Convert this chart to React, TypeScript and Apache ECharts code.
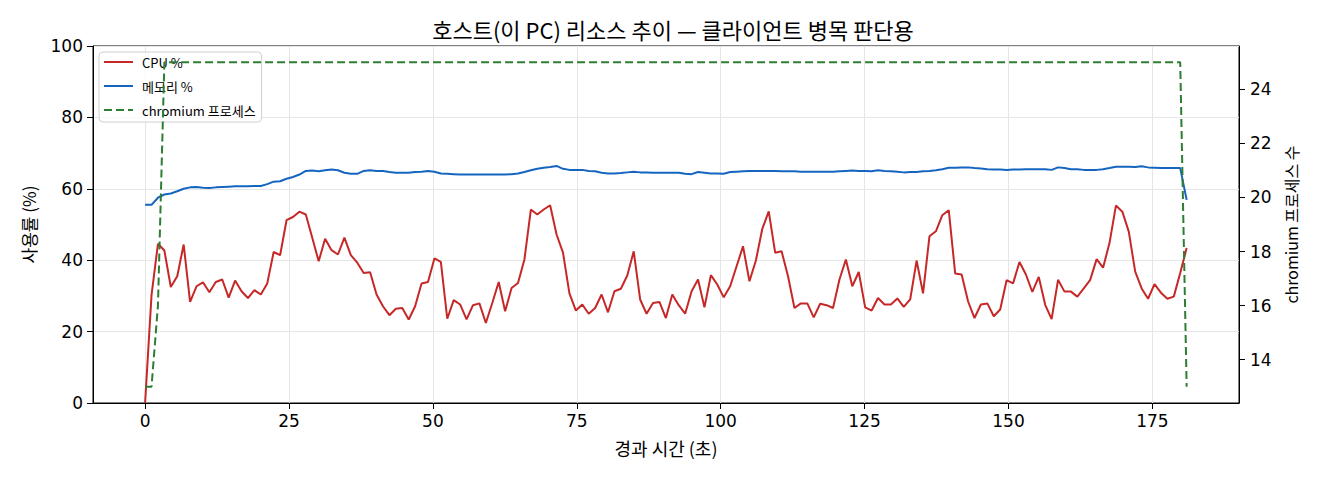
import React, { useEffect, useRef } from 'react'
import * as echarts from 'echarts'

// 샘플 간격 (초)
const SAMPLE_SEC = 1.117

const cpuPct = [
  0, 30.2, 44.6, 42.7, 32.5, 35.5, 44.4, 28.3, 32.7, 33.8,
  31.0, 33.9, 34.6, 29.5, 34.3, 31.3, 29.4, 31.6, 30.4, 33.5,
  42.3, 41.4, 51.2, 52.1, 53.6, 52.8, 46.3, 39.7, 46.0, 42.8,
  41.6, 46.3, 41.4, 39.3, 36.4, 36.6, 30.4, 27.1, 24.6, 26.4,
  26.6, 23.4, 27.1, 33.5, 33.9, 40.5, 39.5, 23.6, 28.8, 27.6,
  23.4, 27.4, 27.9, 22.4, 28.0, 33.9, 25.7, 32.2, 33.6, 40.2,
  54.2, 52.8, 54.2, 55.4, 47.2, 42.1, 30.7, 25.9, 27.6, 25.0,
  26.6, 30.4, 25.4, 31.3, 32.0, 35.7, 42.5, 29.0, 25.0, 28.0,
  28.3, 23.8, 30.4, 27.4, 25.0, 31.3, 34.6, 26.8, 35.8, 33.2,
  29.6, 32.7, 38.3, 43.9, 34.1, 39.9, 48.8, 53.7, 42.1, 42.5,
  35.5, 26.6, 27.9, 27.9, 24.0, 27.8, 27.4, 26.6, 34.6, 40.2,
  32.7, 36.7, 26.8, 25.9, 29.4, 27.6, 27.6, 29.3, 26.9, 29.0,
  39.9, 30.7, 46.7, 48.1, 52.6, 54.0, 36.3, 36.0, 28.5, 23.8,
  27.6, 27.9, 24.3, 26.2, 34.4, 33.5, 39.5, 36.0, 31.1, 35.3,
  27.5, 23.5, 34.5, 31.2, 31.2, 29.8, 32.1, 34.5, 40.3, 37.9,
  44.8, 55.3, 53.6, 48.0, 36.8, 32.1, 29.2, 33.3, 30.9, 29.2,
  29.8, 36.4, 43.4,
]

const memPct = [
  55.5, 55.5, 57.5, 58.4, 58.7, 59.3, 60.0, 60.4, 60.5, 60.3,
  60.2, 60.4, 60.5, 60.6, 60.7, 60.7, 60.7, 60.8, 60.8, 61.3,
  62.0, 62.1, 62.8, 63.3, 64.0, 65.0, 65.1, 64.9, 65.2, 65.4,
  65.2, 64.5, 64.2, 64.2, 65.0, 65.2, 65.0, 65.0, 64.7, 64.5,
  64.5, 64.5, 64.7, 64.8, 65.0, 64.8, 64.3, 64.2, 64.1, 64.0,
  64.0, 64.0, 64.0, 64.0, 64.0, 64.0, 64.0, 64.1, 64.3, 64.7,
  65.2, 65.6, 65.9, 66.1, 66.4, 65.6, 65.3, 65.3, 65.3, 65.0,
  64.9, 64.5, 64.3, 64.3, 64.4, 64.6, 64.8, 64.6, 64.6, 64.5,
  64.5, 64.5, 64.5, 64.5, 64.2, 64.1, 64.7, 64.5, 64.3, 64.3,
  64.2, 64.7, 64.8, 64.9, 65.0, 65.0, 65.0, 65.0, 65.0, 64.9,
  64.9, 64.9, 64.8, 64.8, 64.8, 64.8, 64.8, 64.8, 64.9, 65.0,
  65.1, 65.0, 65.0, 64.9, 65.2, 65.0, 64.9, 64.8, 64.6, 64.7,
  64.7, 64.9, 65.0, 65.2, 65.5, 65.9, 65.9, 66.0, 66.0, 65.8,
  65.7, 65.5, 65.4, 65.4, 65.3, 65.4, 65.4, 65.5, 65.5, 65.5,
  65.5, 65.3, 66.0, 65.8, 65.5, 65.5, 65.3, 65.3, 65.3, 65.5,
  65.8, 66.2, 66.2, 66.2, 66.1, 66.3, 66.0, 65.9, 65.8, 65.8,
  65.8, 65.8, 56.9,
]

const chromiumProcs = [
  13, 13, 16, 25, 25, 25, 25, 25, 25, 25, 25, 25, 25, 25, 25, 25, 25, 25, 25, 25,
  25, 25, 25, 25, 25, 25, 25, 25, 25, 25, 25, 25, 25, 25, 25, 25, 25, 25, 25, 25,
  25, 25, 25, 25, 25, 25, 25, 25, 25, 25, 25, 25, 25, 25, 25, 25, 25, 25, 25, 25,
  25, 25, 25, 25, 25, 25, 25, 25, 25, 25, 25, 25, 25, 25, 25, 25, 25, 25, 25, 25,
  25, 25, 25, 25, 25, 25, 25, 25, 25, 25, 25, 25, 25, 25, 25, 25, 25, 25, 25, 25,
  25, 25, 25, 25, 25, 25, 25, 25, 25, 25, 25, 25, 25, 25, 25, 25, 25, 25, 25, 25,
  25, 25, 25, 25, 25, 25, 25, 25, 25, 25, 25, 25, 25, 25, 25, 25, 25, 25, 25, 25,
  25, 25, 25, 25, 25, 25, 25, 25, 25, 25, 25, 25, 25, 25, 25, 25, 25, 25, 25, 25,
  25, 25, 13,
]

const xTicks = [0, 25, 50, 75, 100, 125, 150, 175]
const procTicks = [14, 16, 18, 20, 22, 24]

const KR = '"Noto Sans CJK KR", "Noto Sans", sans-serif'
const NUM = '"DejaVu Sans", sans-serif'
const GRID_C = '#e6e6e6'

// legend icons (solid / dashed line)
const ICON_SOLID = 'path://M0,0H29V2H0Z'
const ICON_DASH = 'path://M0,0H8V2H0Z M12,0H20V2H12Z M24,0H29V2H24Z'

const withTime = (vals: number[]) =>
  vals.map((v, i) => [+(i * SAMPLE_SEC).toFixed(3), v])

export default function App() {
  const ref = useRef<HTMLDivElement | null>(null)

  useEffect(() => {
    if (!ref.current) return
    const chart = echarts.init(ref.current, undefined, { renderer: 'svg' })

    const axisLine = { show: true, onZero: false, lineStyle: { color: '#000', width: 1 } }
    const tick = { show: true, length: 6, lineStyle: { color: '#000', width: 1 } }

    const opt: echarts.EChartsOption = {
      animation: false,
      backgroundColor: '#fff',
      title: {
        text: '호스트(이 PC) 리소스 추이 — 클라이언트 병목 판단용',
        left: 668,
        top: 13,
        textAlign: 'center',
        textStyle: { fontFamily: KR, fontSize: 22, fontWeight: 'normal', color: '#000' },
      },
      legend: {
        orient: 'vertical',
        left: 99,
        top: 52,
        itemWidth: 29,
        itemHeight: 2,
        itemGap: 10,
        padding: [3, 6, 5, 5],
        backgroundColor: 'rgba(255,255,255,0.8)',
        borderColor: '#d0d0d0',
        borderWidth: 1,
        borderRadius: 4,
        textStyle: { fontFamily: KR, fontSize: 13, lineHeight: 14, color: '#000', padding: [0, 0, 0, 4] },
        data: [
          { name: 'CPU %', icon: ICON_SOLID },
          { name: '메모리 %', icon: ICON_SOLID },
          { name: 'chromium 프로세스', icon: ICON_DASH },
        ],
      },
      grid: {
        left: 93,
        right: 81,
        top: 46,
        bottom: 77,
        show: true,
        borderColor: '#000',
        borderWidth: 1,
        backgroundColor: 'transparent',
      },
      xAxis: {
        type: 'value',
        min: -9.05,
        max: 190.05,
        name: '경과 시간 (초)',
        nameLocation: 'middle',
        nameGap: 36,
        nameTextStyle: { fontFamily: KR, fontSize: 18, color: '#000' },
        axisLine,
        axisTick: { ...tick, customValues: xTicks },
        axisLabel: { customValues: xTicks, fontFamily: NUM, fontSize: 17, color: '#000', margin: 9 },
        splitLine: { show: false },
      },
      yAxis: [
        {
          type: 'value',
          min: 0,
          max: 100,
          interval: 20,
          name: '사용률 (%)',
          nameLocation: 'middle',
          nameRotate: 90,
          nameGap: 56,
          nameTextStyle: { fontFamily: KR, fontSize: 17, color: '#000' },
          axisLine,
          axisTick: tick,
          axisLabel: { fontFamily: NUM, fontSize: 17, color: '#000', margin: 10 },
          splitLine: { show: true, lineStyle: { color: GRID_C, width: 1 } },
        },
        {
          type: 'value',
          position: 'right',
          min: 12.4,
          max: 25.6,
          name: 'chromium 프로세스 수',
          nameLocation: 'middle',
          nameRotate: 90,
          nameGap: 43,
          nameTextStyle: { fontFamily: KR, fontSize: 16, color: '#000' },
          axisLine,
          axisTick: { ...tick, customValues: procTicks },
          axisLabel: { customValues: procTicks, fontFamily: NUM, fontSize: 17, color: '#000', margin: 11 },
          splitLine: { show: false },
        },
      ],
      series: [
        {
          name: 'CPU %',
          type: 'line',
          yAxisIndex: 0,
          data: withTime(cpuPct),
          symbol: 'none',
          color: '#c62828',
          lineStyle: { color: '#c62828', width: 2 },
          z: 3,
          markLine: {
            silent: true,
            symbol: ['none', 'none'],
            label: { show: false },
            lineStyle: { color: GRID_C, width: 1, type: 'solid' },
            data: xTicks.map(v => ({ xAxis: v })),
            z: 1,
          },
        },
        {
          name: '메모리 %',
          type: 'line',
          yAxisIndex: 0,
          data: withTime(memPct),
          symbol: 'none',
          color: '#1565c0',
          lineStyle: { color: '#1565c0', width: 2 },
          z: 3,
        },
        {
          name: 'chromium 프로세스',
          type: 'line',
          yAxisIndex: 1,
          data: withTime(chromiumProcs),
          symbol: 'none',
          color: '#2e7d32',
          lineStyle: { color: '#2e7d32', width: 2, type: [8, 4] },
          z: 10,
        },
      ],
    }

    chart.setOption(opt)
    return () => chart.dispose()
  }, [])

  return (
    <div
      ref={ref}
      style={{ position: 'absolute', left: 0, top: 0, width: 1320, height: 480 }}
    />
  )
}
